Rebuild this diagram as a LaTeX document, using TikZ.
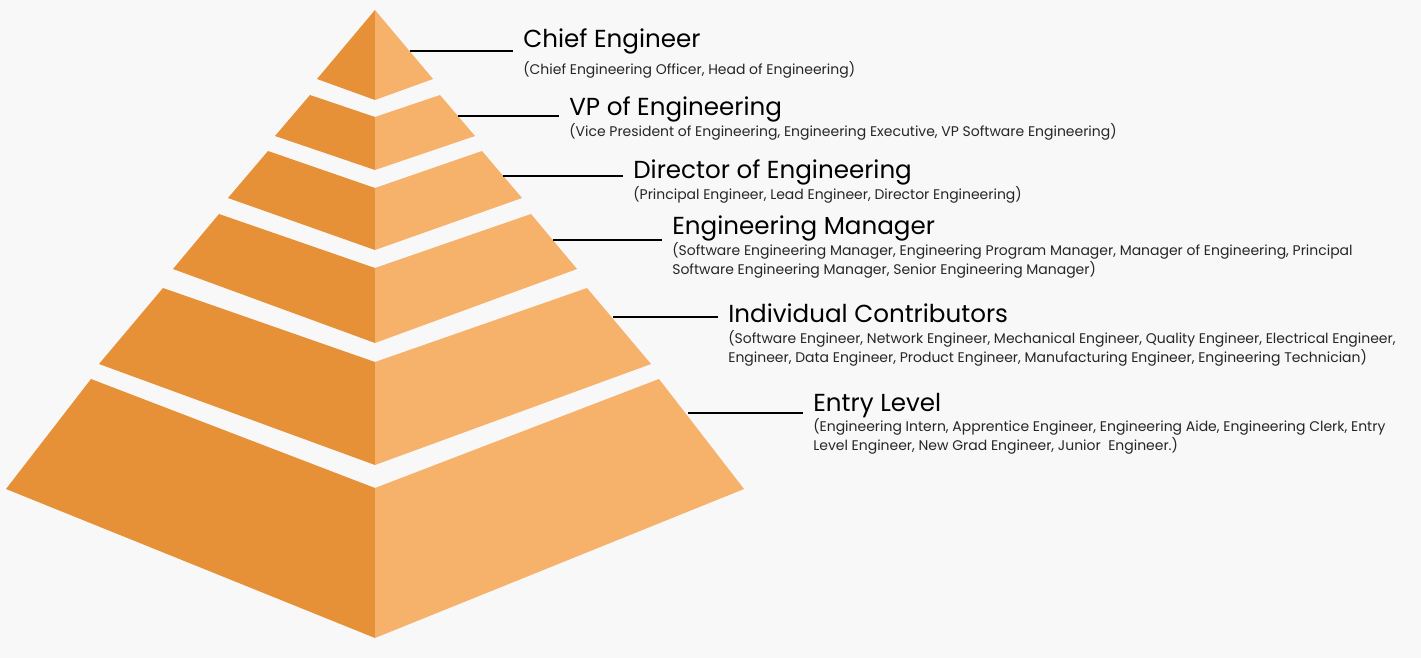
\documentclass[tikz,border=0pt]{standalone}
\usepackage{fontspec}
\setmainfont{Poppins}
\usepackage{tikz}
\usetikzlibrary{positioning}
\definecolor{bgc}{HTML}{F8F8F8}
\definecolor{ordark}{HTML}{E69138}
\definecolor{orlight}{HTML}{F6B26B}
\tikzset{
  lside/.style={fill=ordark},
  rside/.style={fill=orlight},
  lead/.style={line width=1.1pt,shorten >=5.7pt},
  ttl/.style={inner sep=0pt,anchor=base west,font=\fontsize{14}{16}\selectfont},
  sub/.style={inner sep=0pt,anchor=north west,align=left,font=\fontsize{7.95}{10.8}\selectfont,text=black!85}
}
% tier: top y, top half width, top centre y, bottom y, bottom half width, bottom centre y
\newcommand{\tier}[6]{%
  \fill[lside] (375-#2,#1) -- (375,#3) -- (375,#6) -- (375-#5,#4) -- cycle;
  \fill[rside] (375+#2,#1) -- (375,#3) -- (375,#6) -- (375+#5,#4) -- cycle;}

\begin{document}
\begin{tikzpicture}[x=0.02cm,y=-0.02cm]
\fill[bgc] (0,0) rectangle (1421,658);
\useasboundingbox (0,0) rectangle (1421,658);
\tier{10}{0}{10}{79}{58}{100}
\tier{95}{65}{117}{136}{100}{170}
\tier{151}{107}{188}{198}{147}{250}
\tier{214}{156}{268}{269}{202}{343}
\tier{288}{212}{362}{364}{276}{465}
\tier{379}{284}{488}{489}{369}{638}
% labels (subtitles hang from the top of their first line)
\node[ttl] (t1) at (523,48) {Chief Engineer};
\node[sub] (s1) at (523,61) {(Chief Engineering Officer, Head of Engineering)};
\node[ttl] (t2) at (569,116) {VP of Engineering};
\node[sub] (s2) at (569,123) {(Vice President of Engineering, Engineering Executive, VP Software Engineering)};
\node[ttl] (t3) at (633,179) {Director of Engineering};
\node[sub] (s3) at (633,186) {(Principal Engineer, Lead Engineer, Director Engineering)};
\node[ttl] (t4) at (672,235) {Engineering Manager};
\node[sub] (s4) at (672,242) {(Software Engineering Manager, Engineering Program Manager, Manager of Engineering, Principal\\Software Engineering Manager, Senior Engineering Manager)};
\node[ttl] (t5) at (728,323) {Individual Contributors};
\node[sub] (s5) at (728,330) {(Software Engineer, Network Engineer, Mechanical Engineer, Quality Engineer, Electrical Engineer,\\Engineer, Data Engineer, Product Engineer, Manufacturing Engineer, Engineering Technician)};
\node[ttl] (t6) at (813,412) {Entry Level};
\node[sub] (s6) at (813,418) {(Engineering Intern, Apprentice Engineer, Engineering Aide, Engineering Clerk, Entry\\Level Engineer, New Grad Engineer, Junior\ \ Engineer.)};
% leader lines
\coordinate (e1) at (410,51);
\coordinate (e2) at (458,116);
\coordinate (e3) at (503,176);
\coordinate (e4) at (553,240);
\coordinate (e5) at (613,317);
\coordinate (e6) at (688,413);
\draw[lead] (e1) -- (e1 -| t1.west);
\draw[lead] (e2) -- (e2 -| t2.west);
\draw[lead] (e3) -- (e3 -| t3.west);
\draw[lead] (e4) -- (e4 -| t4.west);
\draw[lead] (e5) -- (e5 -| t5.west);
\draw[lead] (e6) -- (e6 -| t6.west);
\end{tikzpicture}
\end{document}
